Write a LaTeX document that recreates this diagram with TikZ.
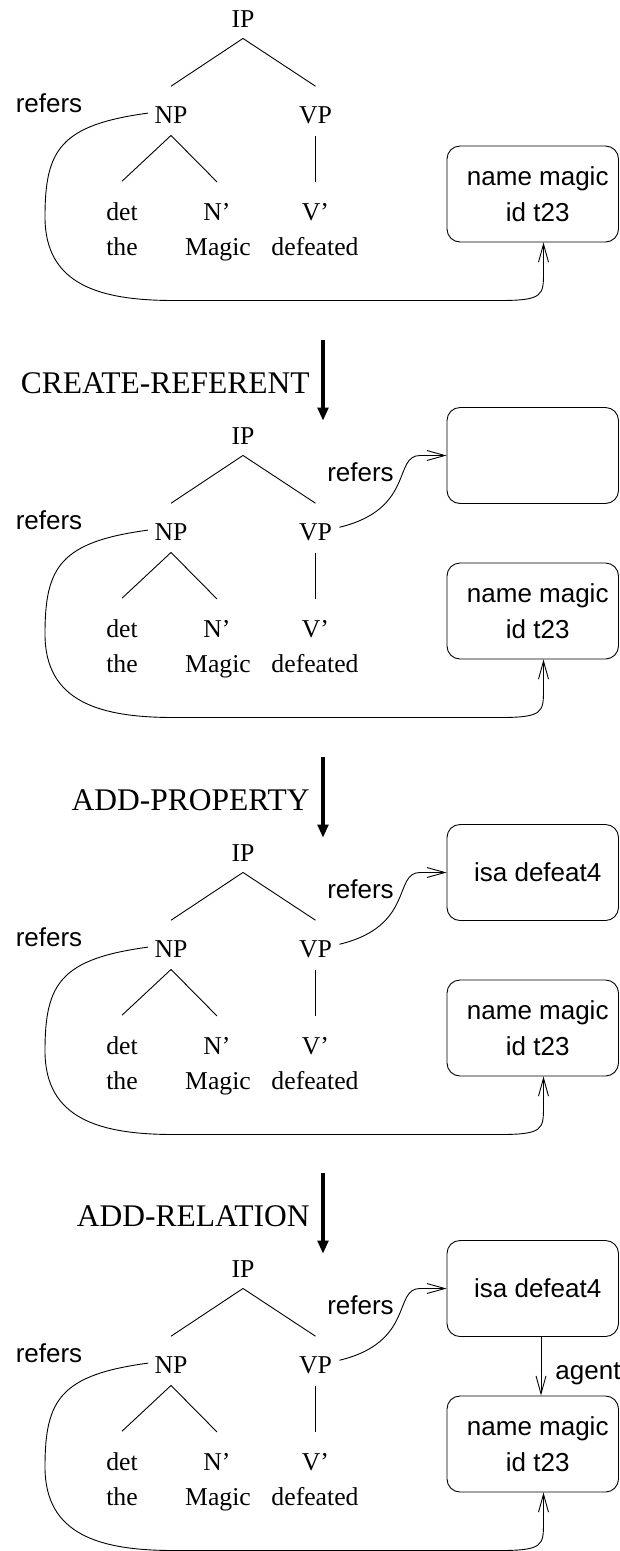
\documentclass[tikz,border=0pt]{standalone}
\usepackage{fontspec}
\setmainfont{Liberation Serif}
\setsansfont{Liberation Sans}
\usetikzlibrary{arrows.meta}

% left padding inside the record boxes (their text sits a little right of centre)
\newcommand{\padl}{\hspace*{10pt}}

\begin{document}
\begin{tikzpicture}[
  x=1pt, y=-1pt,
  line width=0.9pt,
  catlbl/.style={font=\fontsize{25.7}{30}\selectfont, inner sep=0pt, anchor=base},
  relname/.style={font=\sffamily\fontsize{26}{36}\selectfont, inner sep=0pt, anchor=base},
  oplabel/.style={font=\fontsize{31.5}{36}\selectfont, inner sep=0pt, anchor=base east},
  memo/.style={draw, rounded corners=13pt, minimum width=171.5pt, minimum height=96pt,
               inner sep=0pt, align=center, font=\sffamily\fontsize{26}{36}\selectfont},
  branch/.style={line width=0.9pt},
  refer/.style={line width=0.9pt, -{Straight Barb[length=18pt,width=10pt]}},
  stepflow/.style={line width=4.3pt, -{Triangle[length=13pt,width=10.5pt]}},
]
\useasboundingbox (0,0) rectangle (619,1551);

% the parse tree, the discourse record for "Magic" and the NP reference link
\foreach \k/\off in {1/0,2/417,3/834,4/1250}{
  \begin{scope}[shift={(0,\off)}]
    \node[catlbl] (ip\k)  at (243,27)    {IP};
    \node[catlbl] (np\k)  at (171,123.5) {NP};
    \node[catlbl] (vp\k)  at (315.5,123.5) {VP};
    \node[catlbl] (det\k) at (122,220.5) {det};
    \node[catlbl] (nb\k)  at (217,220.5) {N'};
    \node[catlbl] (vb\k)  at (315.5,220.5) {V'};
    \node[catlbl] (the\k) at (122,255.5) {the};
    \node[catlbl] (mg\k)  at (218,255.5) {Magic};
    \node[catlbl] (dft\k) at (315,255.5) {defeated};

    \draw[branch] ([yshift=-11pt]ip\k.south) -- ([yshift=20pt]np\k.north);
    \draw[branch] ([yshift=-11pt]ip\k.south) -- ([yshift=20pt]vp\k.north);
    \draw[branch] ([yshift=-11.5pt]np\k.south) -- ([yshift=21pt]det\k.north);
    \draw[branch] ([yshift=-11.5pt]np\k.south) -- ([yshift=21pt]nb\k.north);
    \draw[branch] ([yshift=-11.5pt]vp\k.south) -- ([yshift=21pt]vb\k.north);

    \node[memo] (obj\k) at (532.75,194) {\padl name magic\\\padl id t23};

    \node[relname] (rl\k) at (49,112.5) {refers};
    \draw[refer] ([xshift=-6pt,yshift=2pt]np\k.west)
        .. controls (60,125) and (45,150) .. (45,217)
        .. controls (45,285) and (100,300.5) .. (174,300.5)
        -- (500,300.5)
        .. controls (543.5,300.5) and (543.5,295) .. (543.5,272)
        -- ([xshift=10.75pt]obj\k.south);
  \end{scope}
}

% the event record and the VP reference link
\foreach \k/\off/\evtxt in {2/417/{},3/834/isa defeat4,4/1250/isa defeat4}{
  \begin{scope}[shift={(0,\off)}]
    \node[memo] (ev\k) at (532.75,38.5) {\padl\evtxt};
    \node[relname] (rv\k) at (360.5,64.5) {refers};
    \draw[refer] ([xshift=7pt,yshift=5pt]vp\k.east)
        .. controls (415,92) and (393,38.5) .. (420,38.5)
        -- (ev\k.west);
  \end{scope}
}

% processing steps between the stages
\foreach \k/\off/\op in {2/417/CREATE-REFERENT,3/834/ADD-PROPERTY,4/1250/ADD-RELATION}{
  \begin{scope}[shift={(0,\off)}]
    \node[oplabel] (op\k) at (310,-24) {\op};
    \coordinate (from\k) at (323,-77);
    \coordinate (to\k) at (323,3.7);
    \draw[stepflow] (from\k) -- (to\k);
  \end{scope}
}

% agent relation between the two records
\draw[refer] ([xshift=8.25pt]ev4.south) -- ([xshift=8.25pt]obj4.north);
\node[relname, anchor=base west] (ag) at (555,1379) {agent};
\end{tikzpicture}
\end{document}
